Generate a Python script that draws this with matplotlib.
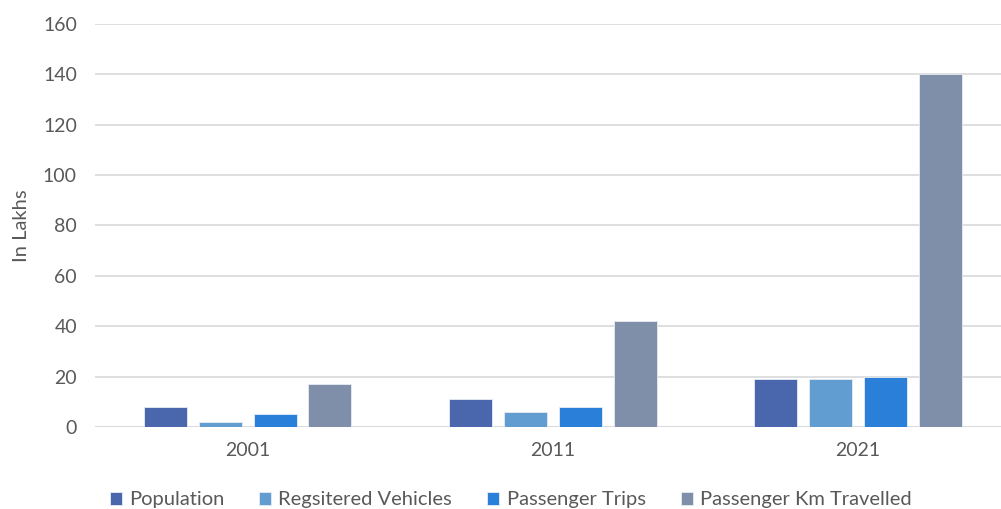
import numpy as np
import matplotlib.pyplot as plt

plt.rcParams['font.family'] = ['Lato', 'DejaVu Sans']

# Dados por ano (em lakhs)
anos = ['2001', '2011', '2021']
populacao = [8, 11, 19]
veiculos = [2, 6, 19]
viagens = [5, 8, 20]
km_viajados = [17, 42, 140]

series = ['Population', 'Regsitered Vehicles', 'Passenger Trips', 'Passenger Km Travelled']
cores = ['#4A66AC', '#629DD1', '#2A7FD9', '#7F8FA9']
valores = [populacao, veiculos, viagens, km_viajados]

fig = plt.figure(figsize=(10.01, 5.09), dpi=100)
ax = fig.add_axes([0.0949, 0.1611, 0.9146, 0.7921])

x = np.arange(len(anos))
largura = 0.141
passo = 0.18
for i, (nome, cor, v) in enumerate(zip(series, cores, valores)):
    ax.bar(x + (i - 1.5) * passo, v, largura, color=cor, label=nome,
           edgecolor='#E8ECF4', linewidth=0.6, zorder=3)

ax.set_xlim(-0.5, 2.5)
ax.set_ylim(0, 160)
ax.set_yticks(np.arange(0, 161, 20))
ax.set_xticks(x)
ax.set_xticklabels(anos)
ax.grid(axis='y', color='#D9D9D9', linewidth=1.2, zorder=0)
ax.axhline(0, color='#D9D9D9', linewidth=1.2, zorder=1)
for s in ax.spines.values():
    s.set_visible(False)
ax.tick_params(length=0, labelsize=14, colors='#595959')
ax.tick_params(axis='x', pad=11)
ax.tick_params(axis='y', pad=13)
ax.set_ylabel('In Lakhs', fontsize=14.5, color='#595959')
ax.yaxis.set_label_coords(-0.071, 0.5)

fig.legend(loc='center', bbox_to_anchor=(0.51, 0.018), ncol=4, frameon=False,
           fontsize=14.5, labelcolor='#595959', handlelength=0.6, handleheight=0.6,
           handletextpad=0.35, columnspacing=1.75)

fig.savefig('out.png', dpi=100)
